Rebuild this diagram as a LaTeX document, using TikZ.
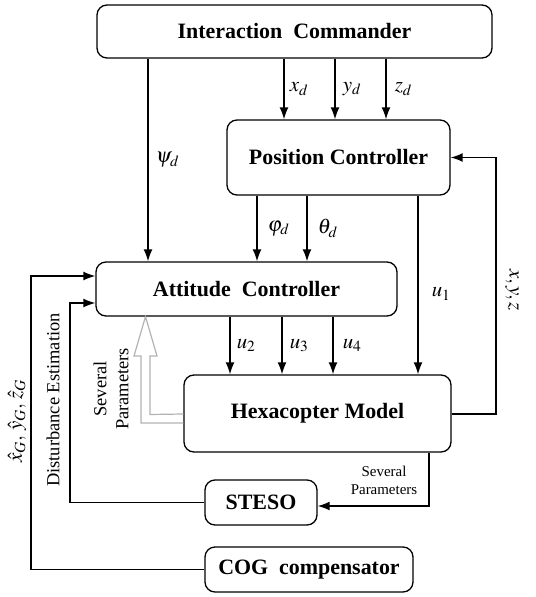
\documentclass[tikz,border=0pt]{standalone}
\usepackage{amsmath}
\usepackage{mathptmx}
\usepackage{fontspec}
\setmainfont{Liberation Serif}
\usepackage{tikz}
\usetikzlibrary{arrows.meta,positioning,calc}

\begin{document}
\begin{tikzpicture}[
    x=1bp, y=-1bp,
    block/.style={rectangle, draw, line width=1.3bp, rounded corners=10bp, align=center, font=\fontsize{22}{24}\selectfont\bfseries, inner sep=0pt},
    arr/.style={line width=1.5bp, -{Latex[length=12bp,width=9bp]}},
    lbl/.style={font=\fontsize{21}{23}\selectfont, inner sep=0pt},
    small/.style={font=\fontsize{18.5}{22}\selectfont, align=center, inner sep=0pt}
]
\useasboundingbox (0,0) rectangle (536,597);

% Blocks
\node[block, minimum width=395bp, minimum height=53bp] (cmd) at (294.5,31.5) {Interaction\ \ Commander};
\node[block, minimum width=223bp, minimum height=75bp] (pos) at (338.5,157.5) {Position Controller};
\node[block, minimum width=301bp, minimum height=54bp] (att) at (246.5,289) {Attitude\ \ Controller};
\node[block, minimum width=267bp, minimum height=77bp] (hex) at (317.5,413.5) {Hexacopter Model};
\node[block, minimum width=112bp, minimum height=45bp] (steso) at (261,502.5) {STESO};
\node[block, minimum width=208bp, minimum height=45bp] (cog) at (309,569.5) {COG\ \ compensator};

% Commander to controllers
\draw[arr] (284,0 |- cmd.south) -- (284,0 |- pos.north) node[lbl, midway, right=5bp] {$x_d$};
\draw[arr] (335,0 |- cmd.south) -- (335,0 |- pos.north) node[lbl, midway, right=7bp] {$y_d$};
\draw[arr] (386,0 |- cmd.south) -- (386,0 |- pos.north) node[lbl, midway, right=8bp] {$z_d$};
\draw[arr] (148,0 |- cmd.south) -- (148,0 |- att.north) node[lbl, midway, right=7bp] {$\psi_d$};

% Position controller outputs
\draw[arr] (257,0 |- pos.south) -- (257,0 |- att.north) node[lbl, midway, right=10bp] {$\varphi_d$};
\draw[arr] (307,0 |- pos.south) -- (307,0 |- att.north) node[lbl, midway, right=10bp] {$\theta_d$};
\draw[arr] (418,0 |- pos.south) -- (418,0 |- hex.north) node[lbl, pos=0.55, right=13bp] {$u_1$};

% Attitude controller outputs
\draw[arr] (230,0 |- att.south) -- (230,0 |- hex.north) node[lbl, midway, right=6bp] {$u_2$};
\draw[arr] (282,0 |- att.south) -- (282,0 |- hex.north) node[lbl, midway, right=7bp] {$u_3$};
\draw[arr] (333,0 |- att.south) -- (333,0 |- hex.north) node[lbl, midway, right=9bp] {$u_4$};

% Feedback x,y,z
\coordinate (fbr) at (496,414);
\draw[arr] (hex.east |- fbr) -- (fbr) -- (fbr |- pos.east) -- (pos.east);
\node[lbl, rotate=-90] (xyz) at (512,290) {$x,y,z$};

% Hexacopter to STESO
\coordinate (fbs) at (429,506);
\draw[arr] (fbs |- hex.south) -- (fbs) -- (fbs -| steso.east);
\node[small, font=\fontsize{15}{18}\selectfont] (sp) at (384,480) {Several\\Parameters};

% Estimates back to attitude controller
\coordinate (de) at (70,303);
\draw[arr] (steso.west) -- (de |- steso.west) -- (de) -- (de -| att.west);
\node[small, rotate=90] (dlbl) at (53,400) {Disturbance Estimation};
\coordinate (cg) at (31,276);
\draw[arr] (cog.west) -- (cg |- cog.west) -- (cg) -- (cg -| att.west);
\node[lbl, rotate=90] (glbl) at (17,421) {$\hat{x}_G,\,\hat{y}_G,\,\hat{z}_G$};

% Hollow parameter arrow
\draw[gray!60, line width=1.2bp] ($(hex.west)+(0,0.5)$) -- (150,414.5) -- (150,356) -- (157,356) -- (145.5,0 |- att.south) -- (134,356) -- (141,356) -- (141,423) -- (hex.west |- 0,423);
\node[small, rotate=90] (splbl) at (111,389) {Several\\Parameters};

\end{tikzpicture}
\end{document}
